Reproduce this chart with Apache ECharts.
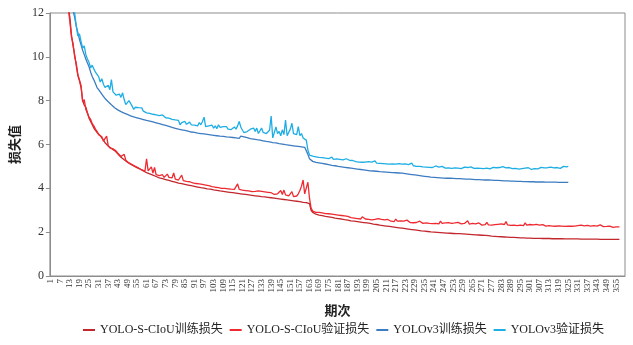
<!DOCTYPE html>
<html>
<head>
<meta charset="utf-8">
<script src="https://cdn.jsdelivr.net/npm/echarts@6/dist/echarts.min.js"></script>
<style>html,body{margin:0;padding:0;background:#fff}#c{width:633px;height:345px}</style>
</head>
<body>
<div id="c"></div>
<script>
const epochCount = 360;
const seriesNames = ['YOLO-S-CIoU训练损失', 'YOLO-S-CIoU验证损失', 'YOLOv3训练损失', 'YOLOv3验证损失'];

const yoloSTrain = [
28,24,21,19,17.5,16.3,15.3,14.5,13.8,13.2,
12.7,12.3,11.8,11.0,10.5,10.1,9.6,9.15,8.9,8.6,
8.0,7.8,7.7,7.45,7.2,7.05,6.9,6.75,6.65,6.55,
6.47,6.4,6.3,6.2,6.08,5.99,5.93,5.87,5.82,5.78,
5.72,5.66,5.58,5.5,5.42,5.36,5.3,5.24,5.19,5.14,
5.1,5.06,5.02,4.98,4.94,4.91,4.87,4.83,4.79,4.76,
4.72,4.69,4.66,4.63,4.6,4.57,4.54,4.51,4.48,4.46,
4.44,4.42,4.4,4.38,4.36,4.34,4.32,4.3,4.28,4.26,
4.24,4.22,4.21,4.19,4.18,4.16,4.15,4.13,4.12,4.1,
4.09,4.07,4.06,4.05,4.03,4.02,4.01,3.99,3.98,3.97,
3.96,3.94,3.93,3.92,3.91,3.89,3.88,3.87,3.86,3.85,
3.84,3.83,3.82,3.81,3.8,3.79,3.78,3.77,3.76,3.75,
3.74,3.73,3.72,3.71,3.7,3.69,3.68,3.67,3.66,3.65,
3.64,3.63,3.62,3.62,3.61,3.6,3.59,3.58,3.57,3.56,
3.55,3.54,3.53,3.52,3.51,3.5,3.49,3.48,3.47,3.46,
3.45,3.44,3.43,3.42,3.41,3.4,3.39,3.38,3.36,3.35,
3.35,3.34,3.3,3.0,2.9,2.85,2.82,2.8,2.78,2.76,
2.75,2.73,2.72,2.71,2.7,2.68,2.67,2.66,2.64,2.63,
2.62,2.61,2.6,2.58,2.57,2.56,2.55,2.54,2.52,2.51,
2.5,2.49,2.48,2.47,2.46,2.45,2.44,2.43,2.42,2.41,
2.4,2.38,2.37,2.36,2.35,2.34,2.32,2.31,2.3,2.29,
2.28,2.27,2.26,2.25,2.24,2.23,2.22,2.21,2.2,2.19,
2.18,2.17,2.16,2.15,2.14,2.13,2.12,2.11,2.1,2.09,
2.08,2.07,2.06,2.06,2.05,2.04,2.03,2.02,2.01,2.01,
2.0,1.99,1.99,1.98,1.98,1.97,1.97,1.96,1.96,1.95,
1.95,1.95,1.94,1.94,1.93,1.93,1.93,1.92,1.92,1.91,
1.91,1.9,1.9,1.89,1.89,1.88,1.88,1.87,1.87,1.86,
1.86,1.85,1.85,1.84,1.84,1.83,1.82,1.82,1.81,1.8,
1.8,1.79,1.79,1.78,1.78,1.77,1.77,1.77,1.76,1.76,
1.76,1.75,1.75,1.75,1.74,1.74,1.74,1.74,1.73,1.73,
1.73,1.73,1.72,1.72,1.72,1.72,1.72,1.71,1.71,1.71,
1.71,1.71,1.71,1.7,1.7,1.7,1.7,1.7,1.7,1.7,
1.7,1.69,1.69,1.69,1.69,1.69,1.69,1.69,1.69,1.69,
1.69,1.69,1.68,1.68,1.68,1.68,1.68,1.68,1.68,1.68,
1.68,1.68,1.68,1.67,1.67,1.67,1.67,1.67,1.67,1.67,
1.67,1.67,1.67,1.67,1.67,1.67,1.67
];

const yoloSVal = [
28,24,21,19,17.5,16.3,15.3,14.5,13.8,13.2,
12.7,12.2,11.6,10.9,10.6,10.0,9.7,9.2,8.95,8.7,
7.95,8.05,7.6,7.55,7.25,7.15,6.95,6.85,6.7,6.6,
6.45,6.5,6.35,6.15,6.1,6.38,5.95,5.85,5.9,5.8,
5.75,5.7,5.6,5.55,5.45,5.4,5.55,5.28,5.2,5.16,
5.1,5.08,5.05,5.0,4.95,4.93,4.9,4.85,4.82,4.78,
5.35,4.8,4.75,4.98,4.7,4.95,4.62,4.6,4.58,4.55,
4.62,4.5,4.48,4.65,4.5,4.45,4.48,4.7,4.42,4.4,
4.38,4.4,4.6,4.35,4.3,4.32,4.25,4.3,4.22,4.25,
4.2,4.22,4.18,4.2,4.15,4.18,4.12,4.15,4.1,4.12,
4.15,4.08,4.1,4.05,4.1,4.03,4.08,4.0,4.05,4.0,
4.05,3.98,4.02,3.96,4.0,3.95,4.0,4.2,3.95,3.98,
3.92,3.96,3.9,3.95,3.88,3.92,3.85,3.9,3.86,3.84,
3.88,3.82,3.86,3.8,3.84,3.78,3.82,3.76,3.8,3.75,
3.72,3.7,3.75,3.68,3.9,3.72,3.92,3.7,3.74,3.66,
3.7,3.85,3.62,3.68,3.65,3.75,3.9,4.1,4.38,3.75,
3.7,4.28,3.55,3.1,2.96,2.92,2.9,2.86,2.9,2.84,
2.88,2.82,2.85,2.8,2.84,2.78,2.82,2.76,2.8,2.75,
2.78,2.72,2.76,2.7,2.74,2.68,2.72,2.7,2.66,2.7,
2.64,2.68,2.62,2.66,2.6,2.7,2.62,2.6,2.64,2.58,
2.62,2.56,2.6,2.58,2.54,2.62,2.55,2.58,2.52,2.56,
2.5,2.58,2.52,2.5,2.55,2.48,2.6,2.5,2.47,2.52,
2.46,2.5,2.45,2.55,2.47,2.44,2.5,2.43,2.48,2.44,
2.42,2.5,2.44,2.4,2.46,2.42,2.48,2.4,2.44,2.39,
2.45,2.4,2.43,2.38,2.5,2.4,2.36,2.42,2.38,2.44,
2.36,2.4,2.35,2.42,2.37,2.45,2.36,2.38,2.34,2.4,
2.36,2.52,2.37,2.35,2.4,2.33,2.38,2.34,2.42,2.35,
2.32,2.38,2.34,2.45,2.33,2.36,2.32,2.4,2.34,2.31,
2.36,2.33,2.38,2.32,2.35,2.48,2.33,2.36,2.31,2.35,
2.32,2.38,2.3,2.34,2.32,2.36,2.3,2.42,2.32,2.3,
2.35,2.31,2.33,2.29,2.36,2.3,2.32,2.28,2.34,2.3,
2.28,2.33,2.3,2.35,2.28,2.31,2.27,2.32,2.29,2.34,
2.28,2.3,2.26,2.32,2.28,2.3,2.27,2.33,2.28,2.26,
2.3,2.27,2.32,2.26,2.29,2.27,2.31,2.26,2.28,2.25,
2.3,2.26,2.28,2.24,2.33,2.27,2.25,2.29,2.26,2.24,
2.28,2.25,2.22,2.3,2.24,2.27,2.24
];

const yolov3Train = [
30,26,23,20.5,18.5,17,15.8,14.9,14.2,13.6,
13.1,12.8,12.5,12.3,12.1,11.8,11.4,11.1,10.8,10.55,
10.3,10.1,9.9,9.72,9.55,9.3,9.1,8.95,8.78,8.6,
8.5,8.4,8.3,8.2,8.1,8.02,7.95,7.88,7.81,7.75,
7.68,7.63,7.58,7.54,7.5,7.46,7.43,7.39,7.37,7.34,
7.31,7.29,7.26,7.24,7.22,7.2,7.18,7.16,7.14,7.12,
7.1,7.08,7.07,7.05,7.03,7.01,6.99,6.97,6.95,6.93,
6.91,6.89,6.87,6.85,6.83,6.81,6.78,6.76,6.74,6.72,
6.7,6.69,6.67,6.66,6.64,6.62,6.61,6.59,6.57,6.56,
6.55,6.54,6.52,6.51,6.5,6.49,6.48,6.47,6.46,6.45,
6.44,6.43,6.42,6.41,6.4,6.39,6.38,6.38,6.37,6.36,
6.35,6.34,6.34,6.33,6.32,6.31,6.3,6.29,6.28,6.38,
6.37,6.35,6.33,6.31,6.29,6.27,6.26,6.25,6.24,6.22,
6.21,6.2,6.18,6.17,6.16,6.14,6.13,6.12,6.1,6.09,
6.08,6.07,6.05,6.04,6.03,6.02,6.0,5.99,5.98,5.97,
5.96,5.95,5.94,5.93,5.92,5.91,5.9,5.89,5.88,5.87,
5.8,5.55,5.35,5.27,5.23,5.2,5.18,5.17,5.16,5.15,
5.14,5.13,5.11,5.1,5.08,5.07,5.05,5.04,5.03,5.01,
5.0,4.99,4.98,4.97,4.96,4.95,4.94,4.93,4.92,4.91,
4.9,4.89,4.88,4.87,4.86,4.85,4.84,4.83,4.82,4.81,
4.8,4.8,4.79,4.78,4.78,4.77,4.76,4.76,4.75,4.75,
4.74,4.74,4.73,4.73,4.72,4.72,4.71,4.71,4.7,4.7,
4.69,4.68,4.67,4.66,4.65,4.64,4.63,4.62,4.61,4.6,
4.59,4.58,4.57,4.56,4.55,4.54,4.53,4.52,4.51,4.5,
4.5,4.49,4.49,4.48,4.48,4.47,4.47,4.47,4.46,4.46,
4.46,4.45,4.45,4.45,4.44,4.44,4.44,4.43,4.43,4.43,
4.42,4.42,4.42,4.41,4.41,4.41,4.4,4.4,4.4,4.39,
4.39,4.39,4.38,4.38,4.38,4.37,4.37,4.37,4.36,4.36,
4.36,4.35,4.35,4.35,4.34,4.34,4.34,4.33,4.33,4.33,
4.33,4.32,4.32,4.32,4.32,4.31,4.31,4.31,4.31,4.3,
4.3,4.3,4.3,4.3,4.29,4.29,4.29,4.29,4.29,4.29,
4.28,4.28,4.28,4.28,4.28,4.28,4.28,4.27,4.27,4.27,
4.27,4.27,4.27,4.27,4.27
];

const yolov3Val = [
30,26,23,20.5,18.5,17,15.8,14.9,14.2,13.6,
13.2,12.9,12.6,12.4,12.2,12.0,11.4,10.95,11.05,10.7,
10.4,10.5,10.1,9.9,9.75,9.5,9.62,9.45,9.3,9.2,
9.1,8.85,9.0,8.75,8.6,8.58,8.7,8.5,8.96,8.4,
8.36,8.25,8.2,8.3,8.15,8.36,8.05,7.82,7.9,8.0,
8.02,7.75,7.6,7.7,7.62,7.68,7.6,7.67,7.52,7.5,
7.44,7.5,7.42,7.48,7.38,7.45,7.35,7.4,7.32,7.27,
7.35,7.28,7.22,7.3,7.2,7.25,7.15,7.2,7.12,7.05,
7.1,6.9,7.0,6.95,7.05,6.92,6.98,7.02,6.9,6.97,
6.88,6.95,6.85,7.0,6.9,7.05,7.25,6.82,6.9,6.85,
6.8,6.88,6.75,6.85,6.72,6.9,6.78,6.7,6.82,6.75,
6.82,6.7,6.78,6.68,6.75,6.8,6.7,6.85,7.05,6.8,
6.65,6.54,6.6,6.59,6.65,6.7,6.62,6.75,6.6,6.75,
6.5,6.58,6.75,6.55,6.6,6.5,6.55,6.65,7.3,6.3,
6.36,6.8,6.5,6.6,6.4,6.67,6.45,7.12,6.4,6.36,
6.7,6.97,6.5,6.55,6.45,6.82,6.4,6.5,6.3,6.28,
6.2,5.75,5.52,5.45,5.47,5.42,5.44,5.38,5.41,5.36,
5.4,5.35,5.38,5.33,5.36,5.3,5.42,5.32,5.3,5.34,
5.28,5.32,5.27,5.3,5.25,5.35,5.26,5.28,5.22,5.27,
5.3,5.22,5.25,5.2,5.24,5.19,5.27,5.2,5.18,5.22,
5.16,5.2,5.17,5.25,5.15,5.18,5.14,5.2,5.13,5.16,
5.12,5.18,5.1,5.14,5.11,5.2,5.1,5.08,5.13,5.07,
5.1,5.05,5.12,5.04,5.08,5.02,5.15,5.03,5.06,5.0,
5.04,5.0,5.05,4.98,5.02,4.97,5.06,4.96,5.0,4.95,
4.98,5.02,4.94,4.97,4.93,5.0,4.95,4.92,4.98,4.93,
4.96,4.91,4.95,4.93,5.02,4.92,4.96,4.9,4.94,4.97,
4.92,4.95,4.9,4.98,4.93,4.91,4.96,4.92,4.99,4.91,
4.94,4.9,4.97,4.92,4.95,4.89,4.93,4.96,4.91,4.94,
4.9,4.95,4.92,4.99,4.91,4.93,4.89,4.95,4.92,4.9,
4.96,4.91,4.93,4.88,4.94,4.9,4.97,4.92,4.89,4.94,
4.91,4.86,4.93,4.9,4.95,4.89,4.92,4.96,4.9,4.93,
4.89,4.94,4.91,4.97,4.9,4.93,4.88,4.95,4.99,4.91,
4.95,5.0,4.92,4.98,5.0
];

const yTicks = { min: 0, max: 12, interval: 2 };
const seriesColors = ['#c1272d', '#ee2a30', '#3d7cc1', '#1eaee5'];

const epochs = [];
for (let i = 1; i <= epochCount; i++) epochs.push(String(i));

const serifFont = '"Liberation Serif", "Noto Sans CJK SC", serif';
const chart = echarts.init(document.getElementById('c'), null, { renderer: 'canvas' });
const mk = (name, data, color) => ({
  name, type: 'line', data, showSymbol: false, symbol: 'none', clip: true,
  lineStyle: { color, width: 1.3 }, itemStyle: { color }
});
chart.setOption({
  animation: false,
  backgroundColor: '#fff',
  grid: { left: 48, right: 8, top: 13, bottom: 69, show: true, borderColor: '#8c8c8c', borderWidth: 1 },
  legend: {
    top: 319, left: 78, icon: 'rect', itemWidth: 12, itemHeight: 2, itemGap: 7,
    textStyle: { fontFamily: serifFont, fontSize: 12, color: '#222' },
    data: seriesNames
  },
  xAxis: {
    type: 'category', data: epochs, boundaryGap: true,
    name: '期次', nameLocation: 'middle', nameGap: 28,
    nameTextStyle: { fontFamily: '"Noto Sans CJK SC", serif', fontSize: 13, fontWeight: 'bold', color: '#222' },
    axisLine: { lineStyle: { color: '#8c8c8c' } },
    axisTick: { show: false },
    axisLabel: { interval: 5, rotate: 90, fontSize: 9, margin: 3, color: '#333', fontFamily: serifFont }
  },
  yAxis: {
    type: 'value', min: yTicks.min, max: yTicks.max, interval: yTicks.interval,
    name: '损失值', nameLocation: 'middle', nameGap: 24, nameRotate: 90,
    nameTextStyle: { fontFamily: '"Noto Sans CJK SC", serif', fontSize: 13, fontWeight: 'bold', color: '#222' },
    axisLine: { show: true, lineStyle: { color: '#8c8c8c' } },
    axisTick: { show: true, length: 4, lineStyle: { color: '#8c8c8c' } },
    splitLine: { show: false },
    axisLabel: { fontSize: 12, margin: 6, color: '#333', fontFamily: serifFont }
  },
  series: [
    mk(seriesNames[0], yoloSTrain, seriesColors[0]),
    mk(seriesNames[1], yoloSVal, seriesColors[1]),
    mk(seriesNames[2], yolov3Train, seriesColors[2]),
    mk(seriesNames[3], yolov3Val, seriesColors[3])
  ]
});
</script>
</body>
</html>
